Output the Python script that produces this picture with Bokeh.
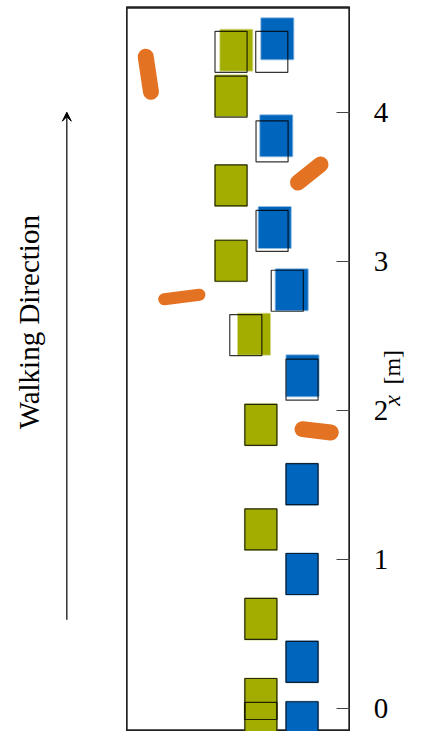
import math
from bokeh.plotting import figure
from bokeh.layouts import row
from bokeh.models import Range1d, LinearAxis, FixedTicker, Label, Arrow, VeeHead
from bokeh.embed import file_html
from bokeh.resources import INLINE

# ---- data (forward x [m], lateral y [m]) ----
# planned footsteps (outlined)
left_plan_x = [-0.094, 0.066, 0.603, 1.203, 1.904, 2.506, 3.004, 3.509, 4.104, 4.405]
left_plan_y = [0.150, 0.150, 0.150, 0.150, 0.150, 0.049, -0.050, -0.050, -0.050, -0.050]
right_plan_x = [-0.090, 0.315, 0.904, 1.506, 2.207, 2.803, 3.204, 3.805, 4.405]
right_plan_y = [0.426, 0.426, 0.426, 0.426, 0.426, 0.327, 0.225, 0.225, 0.223]
# executed footsteps (filled)
left_act_x = [-0.094, 0.066, 0.603, 1.203, 1.904, 2.512, 3.004, 3.509, 4.110, 4.416]
left_act_y = [0.150, 0.150, 0.150, 0.150, 0.150, 0.104, -0.050, -0.050, -0.050, -0.015]
right_act_x = [-0.090, 0.315, 0.904, 1.506, 2.233, 2.810, 3.227, 3.842, 4.492]
right_act_y = [0.426, 0.426, 0.426, 0.426, 0.429, 0.357, 0.243, 0.253, 0.260]
# obstacles (line segments)
obs_x0 = [4.372, 3.529, 2.746, 1.875]
obs_y0 = [-0.622, 0.399, -0.498, 0.429]
obs_x1 = [4.137, 3.649, 2.776, 1.853]
obs_y1 = [-0.587, 0.550, -0.262, 0.619]
obs_width_px = [16, 16, 12, 16]
x_ticks = [0, 1, 2, 3, 4]
x_tick_labels = ["0", "1", "2", "3", "4"]

FOOT_W = 0.215   # lateral size [m]
FOOT_L = 0.275   # forward size [m]

OLIVE = "#A2AD00"
BLUE = "#0065BD"
ORANGE = "#E37222"
SERIF = "Liberation Serif"
PX = 149.15      # pixels per metre (equal aspect)

y_rng = Range1d(-0.152, 4.702)


def bare(fig):
    fig.xgrid.visible = False
    fig.ygrid.visible = False
    fig.background_fill_color = "white"
    fig.border_fill_color = "white"


# ---- left panel: walking direction ----
pa = figure(width=126, height=731, output_backend="svg", toolbar_location=None,
            x_range=Range1d(-1.5957, -0.7509), y_range=y_rng,
            x_axis_location=None, y_axis_location=None,
            min_border_left=0, min_border_right=0,
            min_border_top=7, min_border_bottom=0)
bare(pa)
pa.outline_line_color = None
pa.add_layout(Label(x=-1.4013, y=2.592, text="Walking Direction", angle=math.pi / 2,
                    text_align="center", text_baseline="alphabetic",
                    text_font=SERIF, text_font_size="29px", text_color="black"))
pa.add_layout(Arrow(x_start=-1.151, y_start=0.597, x_end=-1.151, y_end=4.0,
                    line_color="black", line_width=1.2,
                    end=VeeHead(size=9, fill_color="black", line_color="black", line_width=1)))

# ---- main panel ----
p = figure(width=224, height=731, output_backend="svg", toolbar_location=None,
           x_range=Range1d(-0.7509, 0.7509), y_range=y_rng,
           x_axis_location=None, y_axis_location=None,
           min_border_left=0, min_border_right=0,
           min_border_top=7, min_border_bottom=0)
bare(p)
p.outline_line_color = "#222222"
p.outline_line_width = 2.4

# obstacles
for i in range(len(obs_x0)):
    p.segment(x0=[obs_y0[i]], y0=[obs_x0[i]], x1=[obs_y1[i]], y1=[obs_x1[i]],
              line_color=ORANGE, line_width=obs_width_px[i], line_cap="round")

# executed footsteps
p.rect(x=left_act_y, y=left_act_x, width=FOOT_W, height=FOOT_L,
       fill_color=OLIVE, fill_alpha=1.0, line_color=OLIVE, line_alpha=0.45, line_width=2)
p.rect(x=right_act_y, y=right_act_x, width=FOOT_W, height=FOOT_L,
       fill_color=BLUE, fill_alpha=1.0, line_color=BLUE, line_alpha=0.45, line_width=2)

# planned footsteps
p.rect(x=left_plan_y, y=left_plan_x, width=FOOT_W, height=FOOT_L,
       fill_color=None, line_color="black", line_alpha=0.8, line_width=1.2)
p.rect(x=right_plan_y, y=right_plan_x, width=FOOT_W, height=FOOT_L,
       fill_color=None, line_color="black", line_alpha=0.8, line_width=1.2)

# right axis: inward ticks (labels are set in the panel to the right)
ax = LinearAxis(ticker=FixedTicker(ticks=x_ticks),
                major_label_overrides={t: "" for t in x_ticks})
ax.major_tick_in = 14
ax.major_tick_out = 0
ax.minor_tick_in = 0
ax.minor_tick_out = 0
ax.major_tick_line_color = "#444444"
ax.axis_line_color = "#222222"
ax.axis_line_width = 1.5
ax.major_label_standoff = 0
ax.major_label_text_alpha = 0
p.add_layout(ax, "right")

# ---- right panel: tick labels and axis label ----
pc = figure(width=55, height=731, output_backend="svg", toolbar_location=None,
            x_range=Range1d(0.7509, 0.7509 + 55 / PX), y_range=y_rng,
            x_axis_location=None, y_axis_location=None,
            min_border_left=0, min_border_right=0,
            min_border_top=7, min_border_bottom=0)
bare(pc)
pc.outline_line_color = None
pc.text(x=[0.9071] * len(x_ticks), y=x_ticks, text=x_tick_labels,
        text_align="left", text_baseline="middle",
        text_font={"value": SERIF}, text_font_size={"value": "29px"}, text_color="black")
pc.add_layout(Label(x=1.0265, y=2.067, text="x", angle=math.pi / 2,
                    text_align="center", text_baseline="alphabetic",
                    text_font=SERIF, text_font_style="italic",
                    text_font_size="24px", text_color="black"))
pc.add_layout(Label(x=1.0265, y=2.290, text="[m]", angle=math.pi / 2,
                    text_align="center", text_baseline="alphabetic",
                    text_font=SERIF, text_font_size="24px", text_color="black"))

layout = row(pa, p, pc, spacing=0)
open("out.html", "w").write(file_html(layout, INLINE))
